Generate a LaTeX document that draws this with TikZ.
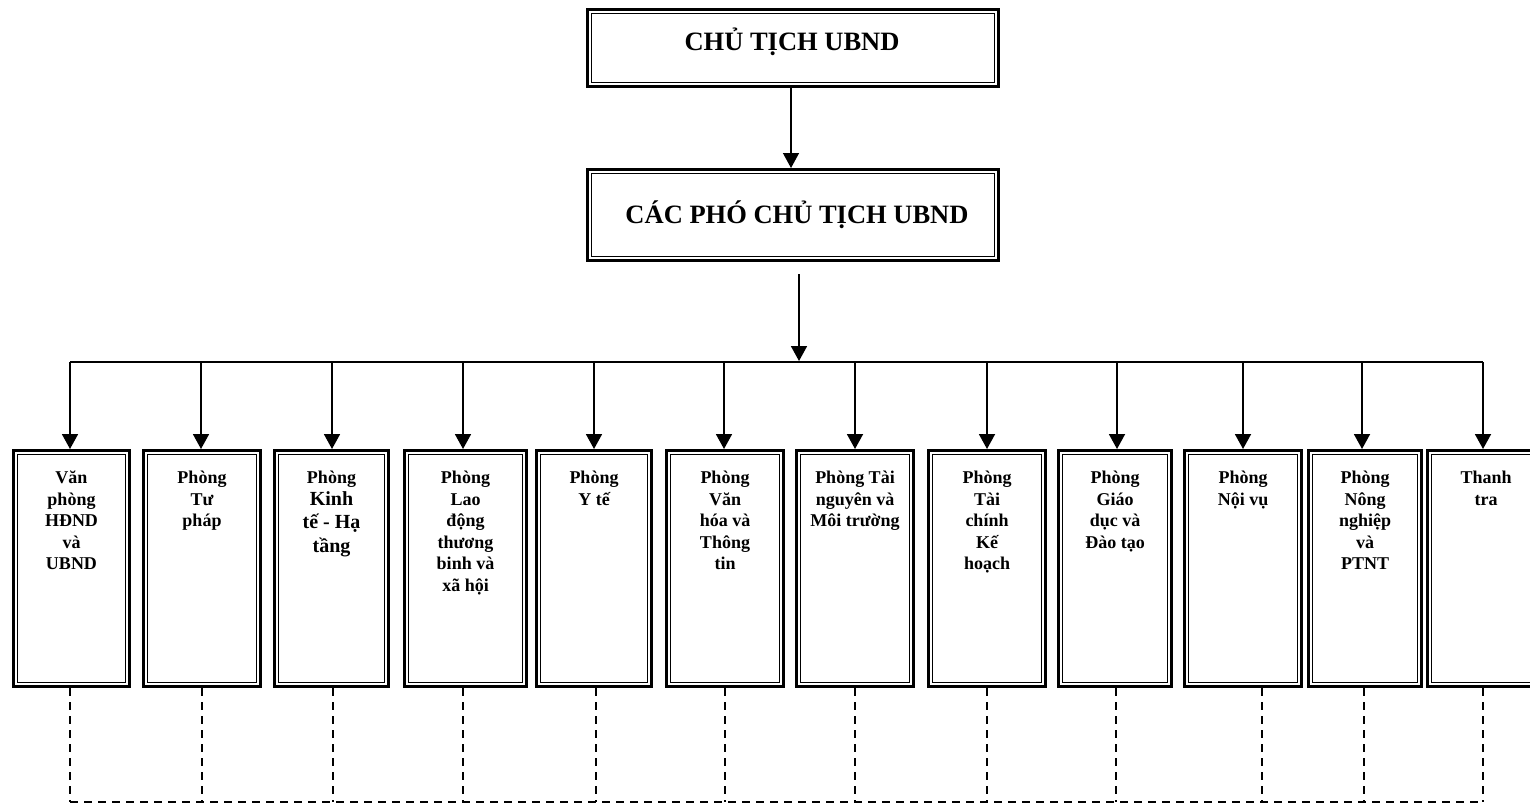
\documentclass[tikz,border=0pt]{standalone}
\usepackage{fontspec}
\setmainfont{Liberation Serif}
\usetikzlibrary{arrows.meta}
\tikzset{
  bx/.style={draw, line width=3pt, inner sep=0pt, minimum height=236pt},
  topbx/.style={draw, line width=3pt, inner sep=0pt, minimum width=411pt},
  inner/.style={line width=1.6pt},
  lbl/.style={anchor=north, inner sep=0pt, align=center, font=\fontsize{18}{21.5}\selectfont\bfseries},
  ttl/.style={anchor=base, inner sep=0pt, font=\fontsize{26.5}{30}\selectfont\bfseries},
  ln/.style={line width=1.8pt},
  arr/.style={line width=1.8pt, -{Triangle[width=16pt,length=15pt]}},
  dsh/.style={line width=1.5pt, dash pattern=on 8pt off 6pt}
}
\begin{document}
\begin{tikzpicture}[x=1pt,y=-1pt]
\useasboundingbox (0,0) rectangle (1530,806);
% top boxes
\node[topbx, minimum height=77pt] (ct) at (793,48) {};
\draw[inner] ([xshift=5.5pt,yshift=-5.5pt]ct.north west) rectangle ([xshift=-5.5pt,yshift=5.5pt]ct.south east);
\node[ttl] (ctt) at (792,50) {CHỦ TỊCH UBND};
\node[topbx, minimum height=91pt] (pho) at (793,215) {};
\draw[inner] ([xshift=5.5pt,yshift=-5.5pt]pho.north west) rectangle ([xshift=-5.5pt,yshift=5.5pt]pho.south east);
\node[ttl] (phot) at (797,223) {CÁC PHÓ CHỦ TỊCH UBND};
\draw[line width=1.4pt, -{Triangle[width=16pt,length=15pt]}] (ct.south -| 791,0) -- (pho.north -| 791,0);
% bottom boxes
\foreach \i/\cx/\w/\ax/\dx in {1/71.5/116/70/70, 2/202/117/201/202, 3/331.5/114/332/333, 4/465.5/122/463/463, 5/594/115/594/596, 6/725/117/724/725, 7/855/117/855/855, 8/987/117/987/987, 9/1115/113/1117/1116, 10/1243/117/1243/1262, 11/1365/113/1362/1364, 12/1486/117/1483/1483}{
  \node[bx, minimum width=\w pt] (b\i) at (\cx,568.5) {};
  \draw[inner] ([xshift=5.5pt,yshift=-5.5pt]b\i.north west) rectangle ([xshift=-5.5pt,yshift=5.5pt]b\i.south east);
  \coordinate (a\i) at (\ax,362);
  \draw[arr] (a\i) -- (a\i |- b\i.north);
  \coordinate (d\i) at (\dx,802);
  \draw[dsh] (b\i.south -| d\i) -- (d\i);
}
\draw[ln] (a1) -- (a12);
\draw[dsh] (d1) -- (d12);
\coordinate (m1) at (799,361);
\draw[arr] ([yshift=-12pt]pho.south -| m1) -- (m1);
% labels
\node[lbl] (t1) at ([yshift=-22pt]b1.north) {Văn\\phòng\\HĐND\\và\\UBND};
\node[lbl] (t2) at ([yshift=-22pt]b2.north) {Phòng\\Tư\\pháp};
\node[lbl] (t3) at ([yshift=-22pt]b3.north) {Phòng\\{\fontsize{20}{24}\selectfont Kinh}\\[2pt]{\fontsize{20}{24}\selectfont tế - Hạ}\\[2pt]{\fontsize{20}{24}\selectfont tầng}};
\node[lbl] (t4) at ([yshift=-22pt]b4.north) {Phòng\\Lao\\động\\thương\\binh và\\xã hội};
\node[lbl] (t5) at ([yshift=-22pt]b5.north) {Phòng\\Y tế};
\node[lbl] (t6) at ([yshift=-22pt]b6.north) {Phòng\\Văn\\hóa và\\Thông\\tin};
\node[lbl] (t7) at ([yshift=-22pt]b7.north) {Phòng Tài\\nguyên và\\Môi trường};
\node[lbl] (t8) at ([yshift=-22pt]b8.north) {Phòng\\Tài\\chính\\Kế\\hoạch};
\node[lbl] (t9) at ([yshift=-22pt]b9.north) {Phòng\\Giáo\\dục và\\Đào tạo};
\node[lbl] (t10) at ([yshift=-22pt]b10.north) {Phòng\\Nội vụ};
\node[lbl] (t11) at ([yshift=-22pt]b11.north) {Phòng\\Nông\\nghiệp\\và\\PTNT};
\node[lbl] (t12) at ([yshift=-22pt]b12.north) {Thanh\\tra};
\end{tikzpicture}
\end{document}
